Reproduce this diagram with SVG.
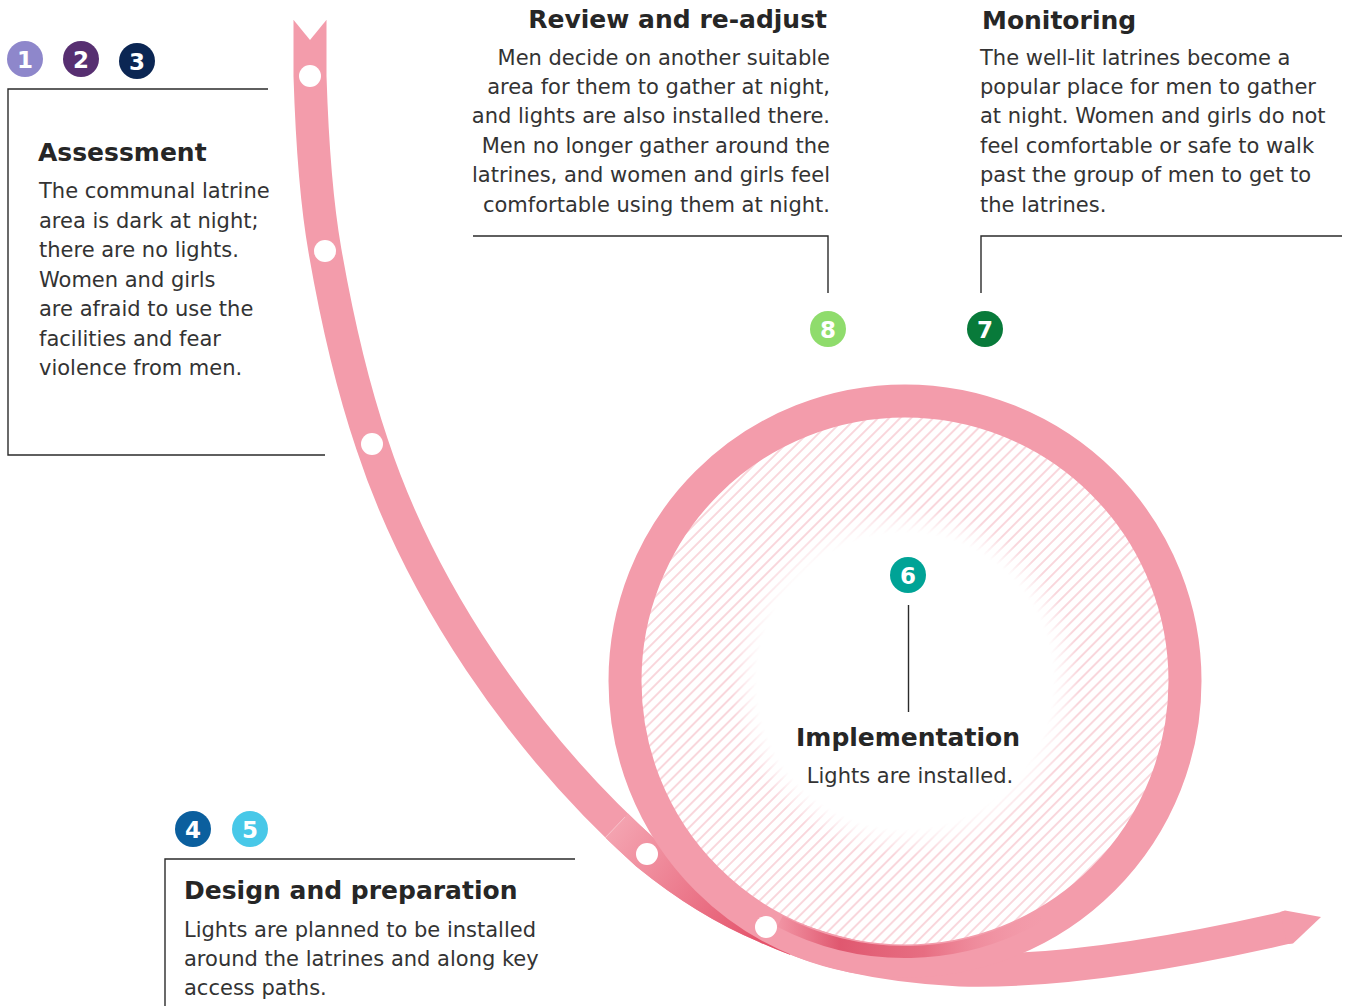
<svg xmlns="http://www.w3.org/2000/svg" width="1349" height="1006" viewBox="0 0 1349 1006">
<defs>
<style>
.body{font-family:"DejaVu Sans","Liberation Sans",sans-serif;font-size:21px;fill:#333333;}
.title{font-family:"DejaVu Sans","Liberation Sans",sans-serif;font-size:25px;font-weight:bold;fill:#262626;}
.num{font-family:"DejaVu Sans","Liberation Sans",sans-serif;font-size:23px;font-weight:bold;fill:#ffffff;text-anchor:middle;}
.rule{stroke:#2b2b2b;stroke-width:1.4;fill:none;}
.ribbon{fill:none;stroke:#f39cab;stroke-width:33;}
.dot{fill:#ffffff;}
</style>
<pattern id="hatch" patternUnits="userSpaceOnUse" width="7.8" height="7.8" patternTransform="rotate(45)">
<line x1="3.9" y1="-1" x2="3.9" y2="8.8" stroke="#f6c2ca" stroke-width="1.3"/>
</pattern>
<radialGradient id="fadeG" gradientUnits="userSpaceOnUse" cx="905" cy="681" r="264">
<stop offset="0" stop-color="#000000"/>
<stop offset="0.56" stop-color="#000000"/>
<stop offset="0.66" stop-color="#ffffff"/>
<stop offset="1" stop-color="#ffffff"/>
</radialGradient>
<mask id="fadeMask"><circle cx="905" cy="681" r="266" fill="url(#fadeG)"/></mask>
<linearGradient id="diagG" gradientUnits="userSpaceOnUse" x1="615" y1="827" x2="765" y2="940">
<stop offset="0" stop-color="#f4a3b0"/>
<stop offset="1" stop-color="#e4526a"/>
</linearGradient>
<clipPath id="diagClip"><polygon points="665,774 565,880 700,1006 790,1006 790,774"/></clipPath>
<linearGradient id="foldG" gradientUnits="userSpaceOnUse" x1="770" y1="0" x2="1050" y2="0">
<stop offset="0" stop-color="#e04e66" stop-opacity="0"/>
<stop offset="0.25" stop-color="#dc4c65" stop-opacity="0.85"/>
<stop offset="0.55" stop-color="#e25a70" stop-opacity="0.7"/>
<stop offset="1" stop-color="#f39cab" stop-opacity="0"/>
</linearGradient>
</defs>

<rect width="1349" height="1006" fill="#ffffff"/>

<g id="ribbon">
<circle cx="905" cy="681" r="266" fill="url(#hatch)" mask="url(#fadeMask)"/>
<path class="ribbon" d="M310,20 L310,76 C312,140 316,200 325,251 C337,320 352,385 372,444 C420,590 520,740 647,854 C685,885 725,910 766,927 C820,952 880,966 960,970 C1060,973 1180,952 1289,927"/>
<polygon points="1280,912 1285,910.5 1321,917 1293,943.5 1287,944" fill="#f39cab"/>
<polygon points="292,18 328,18 310,40" fill="#ffffff"/>
<path d="M310,20 L310,76 C312,140 316,200 325,251 C337,320 352,385 372,444 C420,590 520,740 647,854 C685,885 725,910 766,927 C820,952 880,966 960,970" fill="none" stroke="url(#diagG)" stroke-width="33" clip-path="url(#diagClip)"/>
<line x1="605" y1="838" x2="625" y2="817" stroke="#ffffff" stroke-opacity="0.35" stroke-width="1"/>
<circle cx="905" cy="681" r="280" fill="none" stroke="#f39cab" stroke-width="33"/>
<path d="M779.9,921.4 A271,271 0 0 0 1040.5,915.7" fill="none" stroke="url(#foldG)" stroke-width="12"/>
<circle class="dot" cx="310" cy="76" r="11"/>
<circle class="dot" cx="325" cy="251" r="11"/>
<circle class="dot" cx="372" cy="444" r="11"/>
<circle class="dot" cx="647" cy="854" r="11"/>
<circle class="dot" cx="766" cy="927" r="11"/>
</g>

<g id="connectors">
<polyline class="rule" points="473,236 828,236 828,293"/>
<polyline class="rule" points="981,293 981,236 1342,236"/>
<line class="rule" x1="908.5" y1="605" x2="908.5" y2="712"/>
</g>

<g id="node-assessment">
<circle cx="25" cy="59" r="18" fill="#8e87cb"/>
<text class="num" x="25" y="67.5">1</text>
<circle cx="81" cy="59" r="18" fill="#572f71"/>
<text class="num" x="81" y="67.5">2</text>
<circle cx="137" cy="61" r="18" fill="#0b2653"/>
<text class="num" x="137" y="69.5">3</text>
<polyline class="rule" points="268,89 8,89 8,455 325,455"/>
<text class="title" x="38" y="161">Assessment</text>
<text class="body" x="39" y="198">The communal latrine</text>
<text class="body" x="39" y="227.5">area is dark at night;</text>
<text class="body" x="39" y="257">there are no lights.</text>
<text class="body" x="39" y="286.5">Women and girls</text>
<text class="body" x="39" y="316">are afraid to use the</text>
<text class="body" x="39" y="345.5">facilities and fear</text>
<text class="body" x="39" y="375">violence from men.</text>
</g>

<g id="node-design">
<circle cx="193" cy="829" r="18" fill="#0b5f9e"/>
<text class="num" x="193" y="837.5">4</text>
<circle cx="250" cy="829" r="18" fill="#48c8e8"/>
<text class="num" x="250" y="837.5">5</text>
<polyline class="rule" points="575,859 165,859 165,1006"/>
<text class="title" x="184" y="899">Design and preparation</text>
<text class="body" x="184" y="937">Lights are planned to be installed</text>
<text class="body" x="184" y="966">around the latrines and along key</text>
<text class="body" x="184" y="995">access paths.</text>
</g>

<g id="node-implementation">
<circle cx="908" cy="575" r="18" fill="#00a396"/>
<text class="num" x="908" y="583.5">6</text>
<text class="title" x="908" y="746" text-anchor="middle">Implementation</text>
<text class="body" x="910" y="783" text-anchor="middle">Lights are installed.</text>
</g>

<g id="node-monitoring">
<circle cx="985" cy="329" r="18" fill="#087a3a"/>
<text class="num" x="985" y="337.5">7</text>
<text class="title" x="982" y="29">Monitoring</text>
<text class="body" x="980" y="65">The well-lit latrines become a</text>
<text class="body" x="980" y="94">popular place for men to gather</text>
<text class="body" x="980" y="123">at night. Women and girls do not</text>
<text class="body" x="980" y="153">feel comfortable or safe to walk</text>
<text class="body" x="980" y="182">past the group of men to get to</text>
<text class="body" x="980" y="212">the latrines.</text>
</g>

<g id="node-review">
<circle cx="828" cy="329" r="18" fill="#8fdc6c"/>
<text class="num" x="828" y="337.5">8</text>
<text class="title" x="827" y="28" text-anchor="end">Review and re-adjust</text>
<text class="body" x="830" y="65" text-anchor="end">Men decide on another suitable</text>
<text class="body" x="830" y="94" text-anchor="end">area for them to gather at night,</text>
<text class="body" x="830" y="123" text-anchor="end">and lights are also installed there.</text>
<text class="body" x="830" y="153" text-anchor="end">Men no longer gather around the</text>
<text class="body" x="830" y="182" text-anchor="end">latrines, and women and girls feel</text>
<text class="body" x="830" y="212" text-anchor="end">comfortable using them at night.</text>
</g>
</svg>
